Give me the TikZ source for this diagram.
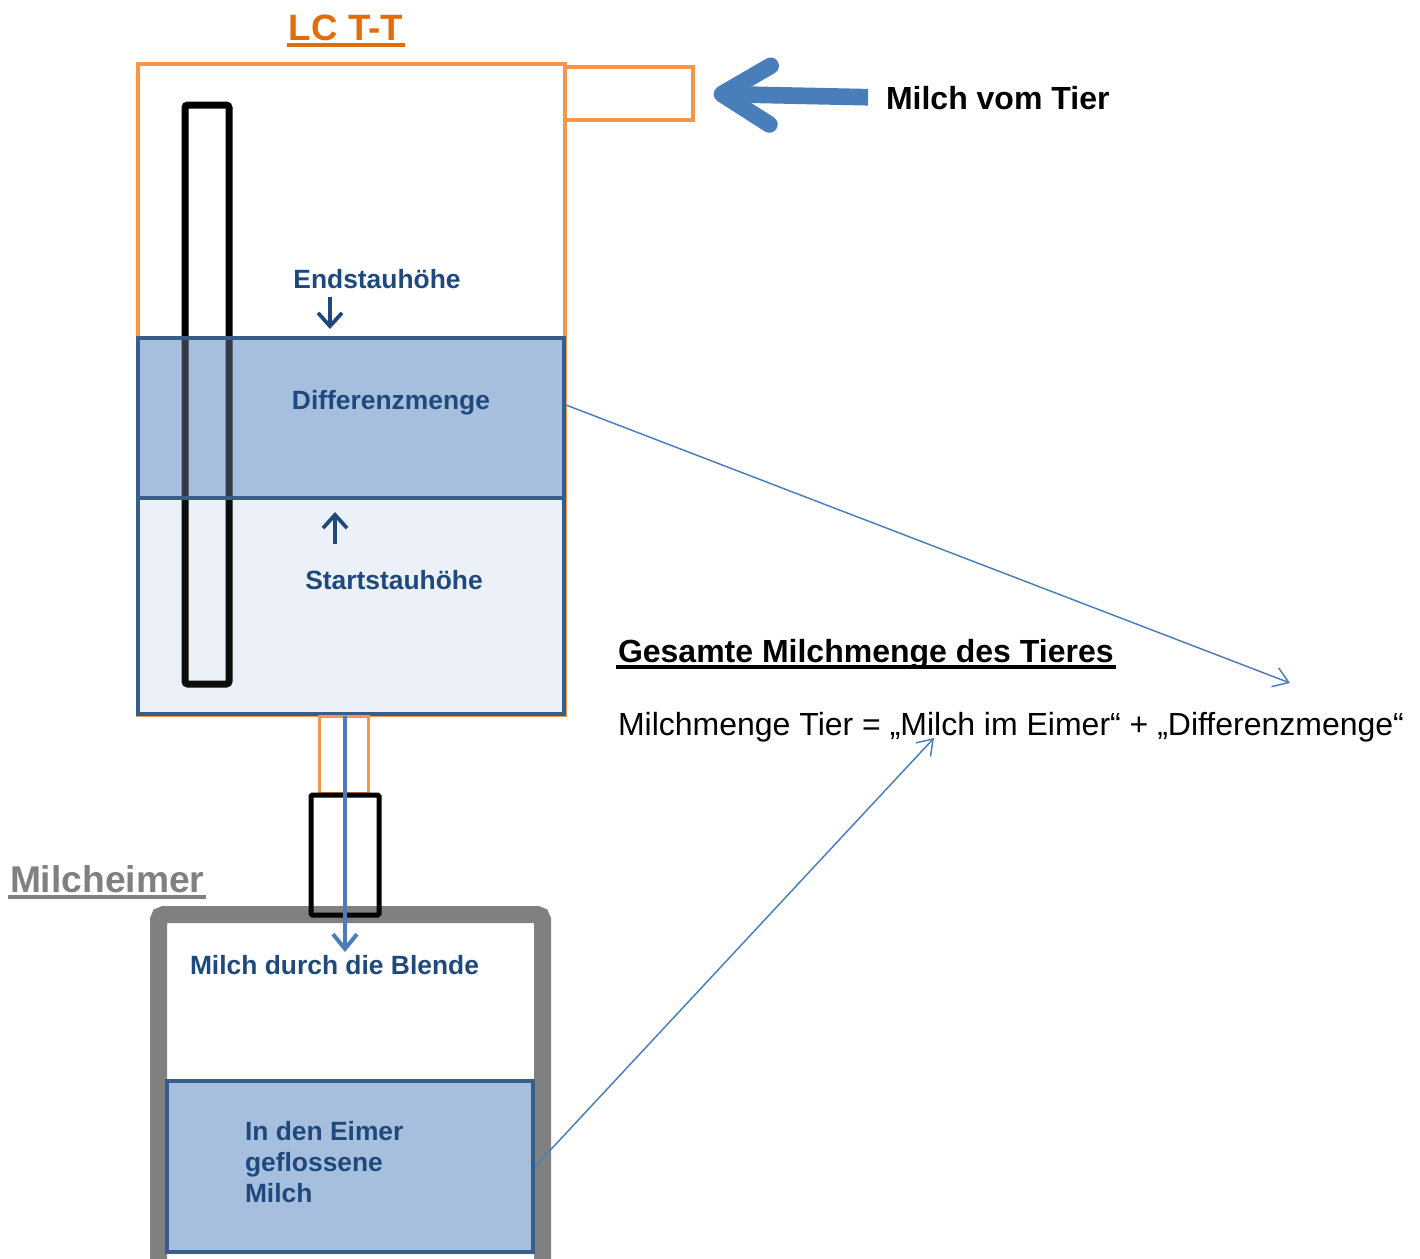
\documentclass[tikz,border=0pt]{standalone}
\usepackage{fontspec}
\setmainfont{Liberation Sans}
\usepackage{tikz}
\usetikzlibrary{arrows.meta, fit}

\definecolor{tankorange}{HTML}{F79646}
\definecolor{titleorange}{HTML}{E36C09}
\definecolor{levelnavy}{HTML}{1F497D}
\definecolor{edgeblue}{HTML}{385D8A}
\definecolor{milkblue}{HTML}{A7BFDE}
\definecolor{milkpale}{HTML}{ECF1F9}
\definecolor{flowblue}{HTML}{4A7EBB}
\definecolor{bucketgray}{HTML}{808080}

\begin{document}
\begin{tikzpicture}[x=0.75pt, y=-0.75pt, line width=3pt,
    region/.style={draw=edgeblue, line width=3pt, fill opacity=0.3, inner sep=0pt},
    level/.style={text=levelnavy, inner sep=0pt, font=\fontsize{19.8}{23.25}\selectfont\bfseries},
    levelarrow/.style={draw=levelnavy, line width=2.8pt, -{Straight Barb[length=10pt, width=18pt]}},
    headline/.style={inner sep=0pt, font=\fontsize{24}{28}\selectfont\bfseries},
    link/.style={draw=flowblue, line width=1.1pt, -{Straight Barb[length=11pt, width=15pt]}}]
    \useasboundingbox (0,0) rectangle (1420,1258);

    % draw tank with inlet
    \draw[color=tankorange] (138,64) rectangle (565,715);
    \node[draw=tankorange, line width=3pt, inner sep=0pt, fit={(565,67) (693,120)}] (inlet) {};

    % draw milk levels under the sight tube
    \fill[milkpale] (138,498) rectangle (564,714);
    \fill[milkblue] (138,338) rectangle (564,498);
    \draw[color=black, line width=5.25pt, rounded corners=2pt] (185,105) rectangle (229,684);
    \node[region, fill=milkpale, fill opacity=0.05, fit={(138,498) (564,714)}] (start) {};
    \node[region, fill=milkblue, fit={(138,338) (564,498)}] (diff) {};

    % draw labels of the tank
    \node[headline, anchor=base, text=titleorange, font=\fontsize{27.5}{32}\selectfont\bfseries] (lctt) at (346,40) {LC T-T};
    \draw[color=titleorange] ([yshift=-4pt]lctt.base west) -- ([yshift=-4pt]lctt.base east);
    \node[level, anchor=base] (endlbl) at (377,288) {Endstauhöhe};
    \node[level, anchor=base] (difflbl) at (391,409) {Differenzmenge};
    \node[level, anchor=base] (startlbl) at (394,589) {Startstauhöhe};
    \coordinate (endtip) at (330,329);
    \coordinate (starttip) at (335,512);
    \draw[levelarrow] ([yshift=-5pt]endlbl.south -| endtip) -- (endtip);
    \draw[levelarrow] ([yshift=18pt]startlbl.north -| starttip) -- (starttip);

    % draw bucket
    \draw[color=bucketgray, line width=12.75pt, fill=white, rounded corners=4pt]
      (158.5,1275) -- (158.5,914.5) -- (542.5,914.5) -- (542.5,1275);
    \node[region, fill=milkblue, fill opacity=1, fit={(167,1081) (533,1252)}] (eimer) {};
    \node[headline, anchor=base west, text=bucketgray, font=\fontsize{27.9}{32}\selectfont\bfseries] (bucket) at (8,892) {Milcheimer};
    \draw[color=bucketgray] ([yshift=-4pt]bucket.base west) -- ([yshift=-4pt]bucket.base east);
    \node[level, anchor=base west] (blende) at (188,974) {Milch durch die Blende};
    \node[level, anchor=north west, align=left] (eimerlbl) at (243,1119) {In den Eimer\\geflossene\\Milch};

    % draw outlet and orifice
    \draw[color=tankorange, line width=2.25pt] (319,716) rectangle (368,793);
    \draw[color=black, line width=3.75pt, rounded corners=1pt] (311,795) rectangle (379,915);
    \coordinate (flowend) at (345,952);
    \draw[color=flowblue, line width=3pt, -{Straight Barb[length=11pt, width=18pt]}] (start.south -| flowend) -- (flowend);

    % draw milk inflow
    \node[headline, anchor=base west] (vomtier) at (884,109) {Milch vom Tier};
    \draw[color=flowblue, line width=12.5pt, shorten <=12pt, shorten >=14pt,
      -{Straight Barb[length=36pt, width=44pt, round]}] (vomtier.west) -- (inlet.east);

    % draw total amount
    \node[headline, anchor=base west] (gesamt) at (616,662) {Gesamte Milchmenge des Tieres};
    \draw[color=black] ([yshift=-4pt]gesamt.base west) -- ([yshift=-4pt]gesamt.base east);
    \node[headline, anchor=base west, font=\fontsize{24}{28}\selectfont] (formel) at (616,735)
      {Milchmenge Tier = „Milch im Eimer“ + „Differenzmenge“};
    \coordinate (diffterm) at (1290,683);
    \coordinate (eimerterm) at (934,738);
    \draw[link] ([yshift=9.75pt]diff.east) -- (diffterm);
    \draw[link] (eimer.east) -- (eimerterm);

\end{tikzpicture}
\end{document}
